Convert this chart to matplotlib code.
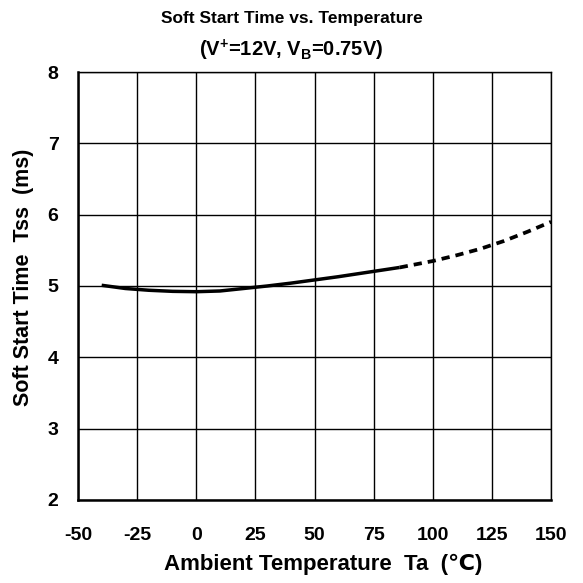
import matplotlib

matplotlib.use("Agg")
import matplotlib.pyplot as plt

# measured curve (solid) and extrapolated part (dashed)
temp_solid = [-40, -30, -20, -10, 0, 10, 20, 30, 40, 50, 60, 70, 80, 86]
tss_solid = [5.01, 4.965, 4.94, 4.925, 4.92, 4.93, 4.965, 5.0, 5.04, 5.085, 5.13, 5.18, 5.23, 5.26]
temp_dash = [86, 100, 110, 120, 130, 140, 150]
tss_dash = [5.26, 5.35, 5.43, 5.52, 5.63, 5.76, 5.90]

x_ticks = [-50, -25, 0, 25, 50, 75, 100, 125, 150]
y_ticks = [2, 3, 4, 5, 6, 7, 8]

plt.rcParams["font.family"] = ["Liberation Sans", "DejaVu Sans"]
plt.rcParams["font.weight"] = "bold"
plt.rcParams["axes.unicode_minus"] = False
plt.rcParams["mathtext.fontset"] = "custom"
plt.rcParams["mathtext.rm"] = "Liberation Sans:bold"
plt.rcParams["mathtext.bf"] = "Liberation Sans:bold"
plt.rcParams["mathtext.it"] = "Liberation Sans:bold"

fig = plt.figure(figsize=(5.83, 5.83), dpi=100)
ax = fig.add_axes([0.1338, 0.1424, 0.8115, 0.7341])

ax.plot(temp_solid, tss_solid, color="black", lw=2.5, solid_capstyle="butt", zorder=3)
ax.plot(temp_dash, tss_dash, color="black", lw=2.7, linestyle=(0, (2.2, 1.6)), zorder=3)

ax.set_xlim(-50, 150)
ax.set_ylim(2, 8)
ax.set_xticks(x_ticks)
ax.set_yticks(y_ticks)
ax.grid(True, color="black", lw=1.0)
ax.tick_params(length=0, labelsize=14)
ax.tick_params(axis="x", pad=19.5)
ax.tick_params(axis="y", pad=14)
for lbl in ax.get_xticklabels() + ax.get_yticklabels():
    lbl.set_fontweight("bold")
for side in ["top", "right"]:
    ax.spines[side].set_linewidth(1.0)
for side in ["left", "bottom"]:
    ax.spines[side].set_linewidth(1.8)

ax.set_xlabel("Ambient Temperature  Ta  (\u2103)", fontsize=16, fontweight="bold")
ax.xaxis.set_label_coords(0.518, -0.126)
ax.set_ylabel("Soft Start Time  Tss  (ms)", fontsize=15.5, fontweight="bold")
ax.yaxis.set_label_coords(-0.092, 0.52)

fig.text(0.5, 0.968, "Soft Start Time vs. Temperature", ha="center", va="center",
         fontsize=12.5, fontweight="bold")
fig.text(0.5, 0.913, r"(V$^{+}$=12V, V$_{\mathrm{B}}$=0.75V)", ha="center", va="center",
         fontsize=14.5, fontweight="bold")

fig.savefig("out.png", dpi=100)
plt.close(fig)
